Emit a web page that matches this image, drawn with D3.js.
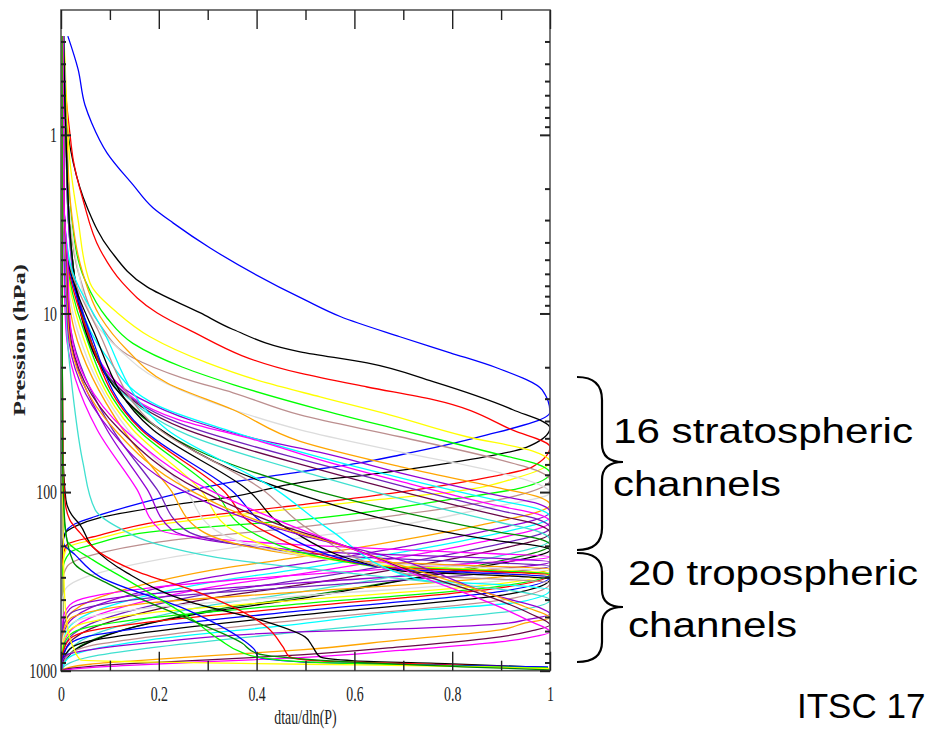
<!DOCTYPE html>
<html>
<head>
<meta charset="utf-8">
<script src="https://cdn.jsdelivr.net/npm/d3@7"></script>
<style>
  body { margin: 0; background: #ffffff; }
  svg { display: block; }
</style>
</head>
<body>
<div id="chart"></div>
<script>
let width = 930;
let height = 729;

// plot frame (pixels)
let plotLeft = 61, plotRight = 550, plotTop = 10, plotBottom = 670.7;

// axis ticks
const xTicks = [0, 0.2, 0.4, 0.6, 0.8, 1];
const xMinorTicks = [0.1, 0.3, 0.5, 0.7, 0.9];
const yTicks = [1, 10, 100, 1000];
const yMinorTicks = [0.3, 0.4, 0.5, 0.6, 0.7, 0.8, 0.9, 2, 3, 4, 5, 6, 7, 8, 9,
  20, 30, 40, 50, 60, 70, 80, 90, 200, 300, 400, 500, 600, 700, 800, 900];

// weighting functions, each point is [dtau/dln(P), pressure hPa]
const stratoColors = ["#0000ff", "#000000", "#ff0000", "#ffff00", "#00ff00", "#bc8f8f", "#dcdcdc", "#ffa500",
  "#9400d3", "#00ffff", "#ff00ff", "#7221bc", "#670748", "#40e0d0", "#008b00", "#000000"];
const stratoChannels = [
  [[0.014,0.28],[0.035,0.43],[0.049,0.68],[0.063,0.86],[0.094,1.26],[0.147,1.9],[0.188,2.56],[0.229,3.11],[0.305,4.3],[0.499,8.4],[0.571,10.4],[0.693,13.5],[0.796,16.6],[0.892,20.2],[0.984,26.8],[1,35.6],[0.857,49],[0.693,62],[0.611,68.6],[0.489,77],[0.319,91],[0.202,108],[0.135,121],[0.07,137],[0.03,150],[0.008,170],[0.003,200],[0.002,1000]],
  [[0.004,0.28],[0.008,0.6],[0.014,0.97],[0.025,1.43],[0.053,2.53],[0.1,4.4],[0.176,7.1],[0.284,9.9],[0.352,12.3],[0.489,16.4],[0.626,18.9],[0.761,24.1],[0.924,34.6],[1,43.7],[0.953,56],[0.796,68.6],[0.626,80],[0.489,88.5],[0.352,106],[0.202,121],[0.08,139],[0.03,155],[0.01,168],[0.004,190],[0.003,1000]],
  [[0.004,0.28],[0.01,0.6],[0.018,0.97],[0.025,1.38],[0.045,2.31],[0.08,4.4],[0.125,6.7],[0.196,9.9],[0.258,12.2],[0.489,21.6],[0.626,25.8],[0.761,30.4],[0.924,45],[1,55.8],[0.965,72],[0.83,87],[0.693,100],[0.489,118],[0.202,146],[0.08,174],[0.012,197],[0.004,238],[0.003,1000]],
  [[0.006,0.28],[0.012,0.7],[0.018,1.38],[0.035,3],[0.059,6.7],[0.115,9.9],[0.182,13.5],[0.299,18.9],[0.421,24.5],[0.53,29.3],[0.658,36],[0.83,49],[0.965,59],[1,67.8],[0.933,83],[0.796,100],[0.652,110],[0.489,123],[0.202,152],[0.08,181],[0.012,205],[0.004,255],[0.003,1000]],
  [[0.006,0.28],[0.012,1.2],[0.022,3],[0.049,6.5],[0.094,10.6],[0.147,14.7],[0.249,20],[0.352,25],[0.53,34.5],[0.693,44.8],[0.898,61.8],[0.975,70],[1,78.1],[0.939,95],[0.796,110],[0.489,143],[0.202,165],[0.065,197],[0.018,218],[0.004,271],[0.003,1000]],
  [[0.006,0.28],[0.012,1.2],[0.02,3.4],[0.04,6.5],[0.08,11.6],[0.147,17.7],[0.249,23],[0.352,27.8],[0.489,37],[0.693,49],[0.898,66],[0.975,76],[1,85.4],[0.898,110],[0.693,134],[0.489,157],[0.202,190],[0.065,225],[0.012,262],[0.004,310],[0.003,1000]],
  [[0.006,0.28],[0.012,1.5],[0.035,5.7],[0.07,11.3],[0.12,16],[0.2,23.5],[0.352,34.6],[0.489,44.8],[0.693,59.5],[0.898,78],[0.975,90],[1,101],[0.857,125],[0.693,153],[0.489,181],[0.202,238],[0.065,290],[0.008,354],[0.003,420],[0.002,1000]],
  [[0.006,0.28],[0.012,1],[0.02,2.5],[0.045,6],[0.08,10.4],[0.135,16],[0.217,24.5],[0.352,34.6],[0.489,52],[0.693,72],[0.898,95],[0.975,106],[1,117.9],[0.86,152.7],[0.7,185.2],[0.49,230.6],[0.3,276.2],[0.2,314.2],[0.12,357.5],[0.06,406.6],[0.025,462.6],[0.008,540],[0.003,646.9],[0.002,1000]],
  [[0.006,0.28],[0.01,1],[0.015,3],[0.04,10],[0.08,19],[0.162,30],[0.27,40],[0.407,51],[0.53,60],[0.693,78],[0.898,105],[0.975,116],[1,129.1],[0.86,167.1],[0.7,202.7],[0.49,252.4],[0.3,302.3],[0.2,343.9],[0.12,391.2],[0.06,445],[0.025,506.3],[0.008,590.9],[0.003,707.9],[0.002,1000]],
  [[0.006,0.28],[0.01,1],[0.015,3],[0.04,9],[0.09,17],[0.2,33],[0.34,45],[0.53,64],[0.7,84],[0.898,112],[0.975,124],[1,137.7],[0.86,178.2],[0.7,216.2],[0.49,269.2],[0.3,322.4],[0.2,366.8],[0.12,417.3],[0.06,474.7],[0.025,540],[0.008,630.3],[0.003,755.1],[0.002,1000]],
  [[0.005,0.28],[0.01,1],[0.015,3],[0.045,10],[0.1,22],[0.237,39],[0.407,52],[0.53,66],[0.7,88],[0.898,120],[0.975,133],[1,146.9],[0.86,190],[0.7,230.6],[0.49,287.1],[0.3,343.9],[0.2,391.2],[0.12,445],[0.06,506.3],[0.025,575.9],[0.008,672.3],[0.003,805.1],[0.002,1000]],
  [[0.005,0.28],[0.01,1],[0.015,3],[0.05,11],[0.1,23],[0.24,41],[0.53,70],[0.7,93],[0.898,127],[0.975,142],[1,158.6],[0.86,205.3],[0.7,249.1],[0.49,310.1],[0.3,371.5],[0.2,422.7],[0.12,480.9],[0.06,547],[0.025,622.3],[0.008,726.5],[0.003,870],[0.002,1000]],
  [[0.005,0.28],[0.01,1],[0.02,4],[0.05,12],[0.11,25],[0.25,44],[0.53,75],[0.7,100],[0.898,136],[0.975,152],[1,169.2],[0.86,219],[0.7,265.7],[0.49,330.8],[0.3,396.3],[0.2,450.8],[0.12,512.9],[0.06,583.4],[0.025,663.7],[0.008,774.5],[0.003,928],[0.002,1000]],
  [[0.005,0.28],[0.01,1],[0.02,4],[0.055,13],[0.12,27],[0.26,48],[0.53,82],[0.7,110],[0.898,148],[0.975,166],[1,185.2],[0.86,239.7],[0.7,290.8],[0.49,362.1],[0.3,433.8],[0.2,493.4],[0.12,561.4],[0.06,638.6],[0.025,726.5],[0.008,847.9],[0.003,960],[0.002,1000]],
  [[0.005,0.28],[0.01,1],[0.02,4],[0.06,14],[0.12,28],[0.177,40],[0.3,62],[0.53,100],[0.7,130],[0.898,168],[0.975,182],[1,197.5],[0.86,255.6],[0.7,310.1],[0.49,386.2],[0.3,462.6],[0.2,526.3],[0.12,598.6],[0.06,681.1],[0.025,774.5],[0.008,881.4],[0.003,970],[0.002,1000]],
  [[0.005,0.28],[0.01,1],[0.02,4],[0.06,15],[0.13,30],[0.2,44],[0.35,75],[0.53,112],[0.7,150],[0.898,188],[0.975,200],[1,210.7],[0.86,262],[0.7,312],[0.49,395],[0.3,470],[0.2,530],[0.12,600],[0.06,690],[0.025,780],[0.008,885],[0.003,975],[0.002,1000]]
];

const tropoColors = ["#ff00ff", "#9400d3", "#7221bc", "#ffa500", "#dcdcdc", "#ffff00", "#00ff00", "#ff0000",
  "#0000ff", "#000000", "#bc8f8f", "#00ffff", "#40e0d0", "#9400d3", "#ffa500", "#670748", "#ff00ff"];
const tropoChannels = [
  [[0.004,0.28],[0.006,2.3],[0.006,5],[0.01,12.3],[0.074,44.8],[0.155,96.3],[0.202,162.8],[0.489,197.5],[0.796,216.2],[1,230.6],[0.796,255.6],[0.489,290.8],[0.182,343.9],[0.059,386.2],[0.018,428.2],[0.004,519.5],[0.002,1000]],
  [[0.004,0.28],[0.006,2.3],[0.007,5],[0.015,12.3],[0.094,44.8],[0.176,96.3],[0.227,162.8],[0.53,216.2],[0.816,230.6],[1,245.9],[0.816,279.8],[0.489,322.4],[0.182,371.5],[0.059,411.9],[0.018,450.8],[0.004,554.1],[0.002,1000]],
  [[0.004,0.28],[0.006,2.3],[0.008,5],[0.02,12.3],[0.106,44.8],[0.196,96.3],[0.254,162.8],[0.55,226],[0.836,245.9],[1,258.9],[0.836,290.8],[0.489,339.5],[0.182,391.2],[0.059,439.4],[0.018,480.9],[0.004,590.9],[0.002,1000]],
  [[0.004,0.28],[0.006,2.3],[0.009,5],[0.027,12.3],[0.127,44.8],[0.223,96.3],[0.284,162.8],[0.571,239.7],[0.857,258.9],[1,269.2],[0.857,306.2],[0.489,362.1],[0.182,417.3],[0.059,468.6],[0.018,512.9],[0.004,630.3],[0.002,1000]],
  [[0.004,0.28],[0.006,2.3],[0.01,5],[0.033,12.3],[0.137,44.8],[0.254,96.3],[0.315,162.8],[0.591,245.9],[0.877,265.7],[1,276.2],[0.877,318.3],[0.489,381.3],[0.182,445],[0.059,499.8],[0.018,554.1],[0.004,672.3],[0.002,1000]],
  [[0.004,0.28],[0.006,2.3],[0.011,5],[0.04,12.3],[0.147,44.8],[0.284,96.3],[0.35,162.8],[0.611,252.4],[0.877,272.6],[1,283.4],[0.877,330.8],[0.489,401.4],[0.182,474.7],[0.059,533.1],[0.018,590.9],[0.004,717.1],[0.002,1000]],
  [[0.004,0.28],[0.006,2.3],[0.012,5],[0.046,12.3],[0.157,44.8],[0.311,96.3],[0.382,162.8],[0.632,258.9],[0.888,276.2],[1,287.1],[0.888,339.5],[0.489,422.7],[0.182,506.3],[0.059,568.6],[0.018,630.3],[0.004,764.6],[0.002,1000]],
  [[0.004,0.28],[0.006,2.3],[0.013,5],[0.052,12.3],[0.164,44.8],[0.329,96.3],[0.411,162.8],[0.652,262.3],[0.898,279.8],[1,290.8],[0.898,343.9],[0.489,439.4],[0.182,533.1],[0.059,598.6],[0.018,663.7],[0.004,805.1],[0.002,1000]],
  [[0.004,0.28],[0.006,2.3],[0.014,5],[0.057,12.3],[0.168,44.8],[0.346,96.3],[0.438,162.8],[0.673,269.2],[0.908,287.1],[1,298.4],[0.908,357.4],[0.489,462.6],[0.182,568.6],[0.059,638.6],[0.018,707.9],[0.004,847.9],[0.002,1000]],
  [[0.004,0.28],[0.006,2.3],[0.015,5],[0.065,12.3],[0.188,44.8],[0.38,96.3],[0.468,162.8],[0.693,276.2],[0.918,294.6],[1,306.2],[0.918,371.5],[0.489,487.1],[0.182,606.4],[0.059,681.1],[0.018,755.1],[0.004,892.8],[0.002,1000]],
  [[0.004,0.28],[0.006,2.3],[0.016,5],[0.075,12.3],[0.202,44.8],[0.411,96.3],[0.509,162.8],[0.714,290.8],[0.928,310.1],[1,322.4],[0.928,391.2],[0.489,519.5],[0.182,646.9],[0.059,726.5],[0.018,805.1],[0.004,928],[0.002,1000]],
  [[0.004,0.28],[0.006,2.3],[0.017,5],[0.085,12.3],[0.217,44.8],[0.438,96.3],[0.55,162.8],[0.734,310.1],[0.939,335.1],[1,352.8],[0.939,411.9],[0.693,468.6],[0.489,547],[0.182,672.3],[0.059,764.6],[0.018,837],[0.004,940],[0.002,1000]],
  [[0.004,0.28],[0.006,2.3],[0.009,5],[0.012,12.3],[0.025,29.3],[0.045,68.6],[0.07,125.8],[0.115,156.6],[0.217,202.7],[0.352,239.7],[0.53,272.6],[0.755,318.3],[0.939,362.1],[1,401.4],[0.939,456.6],[0.693,533.1],[0.489,606.4],[0.182,745.5],[0.059,837],[0.018,904.4],[0.004,964.5],[0.002,1000]],
  [[0.004,0.28],[0.006,2.3],[0.01,5],[0.014,12.3],[0.1,44.8],[0.243,96.3],[0.387,143.1],[0.489,173.6],[0.693,239.7],[0.898,386.2],[0.98,445],[1,480.9],[0.95,519.5],[0.898,547],[0.693,583.4],[0.489,606.4],[0.202,690.2],[0.059,764.6],[0.012,815.6],[0.003,892.8],[0.002,1000]],
  [[0.004,0.28],[0.006,2.3],[0.011,5],[0.016,12.3],[0.11,44.8],[0.26,96.3],[0.42,150],[0.55,190],[0.7,260],[0.85,350],[0.95,440],[1,506.3],[0.95,540],[0.898,590.9],[0.693,672.3],[0.489,764.6],[0.3,826],[0.15,880],[0.06,920],[0.015,960],[0.003,990],[0.002,1000]],
  [[0.004,0.28],[0.006,2.3],[0.012,5],[0.018,12.3],[0.12,44.8],[0.28,96.3],[0.44,150],[0.58,200],[0.72,280],[0.87,380],[0.96,480],[1,554.1],[0.96,600],[0.898,646.9],[0.693,735.9],[0.489,815.6],[0.3,870],[0.15,910],[0.06,945],[0.015,975],[0.002,1000]],
  [[0.004,0.28],[0.006,2.3],[0.013,5],[0.02,12.3],[0.13,44.8],[0.3,96.3],[0.46,150],[0.6,210],[0.74,300],[0.88,420],[0.96,530],[1,606.4],[0.96,650],[0.898,690],[0.693,770],[0.489,845],[0.3,890],[0.15,930],[0.06,960],[0.015,985],[0.002,1000]]
];

// surface-sensitive channels, running along the bottom
const surfaceColors = ["#000000", "#ff0000", "#0000ff", "#00ff00", "#ffff00", "#008b00"];
const surfaceChannels = [
  [[0.002,0.28],[0.002,8.4],[0.004,58],[0.01,110.6],[0.022,134.2],[0.039,152.7],[0.065,202.7],[0.135,283.4],[0.27,417.3],[0.407,519.5],[0.499,646.9],[0.515,735.9],[0.53,837],[0.6,880],[0.8,915],[0.996,960]],
  [[0.002,0.28],[0.002,8.4],[0.004,58],[0.008,110.6],[0.018,143.1],[0.039,169.2],[0.08,219],[0.147,272.6],[0.284,366.8],[0.421,568.6],[0.454,735.9],[0.468,837],[0.53,881.4],[0.734,916.1],[0.996,964.5]],
  [[0.002,0.28],[0.002,8.4],[0.003,58],[0.004,141],[0.005,192.5],[0.029,224.7],[0.08,298.4],[0.258,456.6],[0.372,672.3],[0.396,764.6],[0.403,837],[0.489,892.8],[0.996,952.3]],
  [[0.002,0.28],[0.002,8.4],[0.003,58],[0.005,120],[0.012,185],[0.065,239.7],[0.135,310.1],[0.27,519.5],[0.325,672.3],[0.372,794.8],[0.4,837],[0.5,892.8],[0.996,964.5]],
  [[0.002,0.28],[0.003,50],[0.006,300],[0.012,540],[0.025,740],[0.04,870],[0.2,895],[0.5,920],[0.8,945],[1,975]],
  [[0.002,0.28],[0.003,60],[0.008,150],[0.025,245.9],[0.1,330],[0.25,500],[0.37,700],[0.4,800],[0.55,880],[1,990]]
];

// slide annotations to the right of the plot
const noteLines = ["16 stratospheric", "channels", "20 tropospheric", "channels"];
const footer = "ITSC 17";

let svg = d3.select("#chart")
  .append("svg")
  .attr("width", width)
  .attr("height", height);

let x = d3.scaleLinear().domain([0, 1]).range([plotLeft, plotRight]);
let y = d3.scaleLog().domain([0.2, 1000]).range([plotTop, plotBottom]);

svg.append("defs").append("clipPath")
  .attr("id", "plot-clip")
  .append("rect")
  .attr("x", plotLeft)
  .attr("y", plotTop)
  .attr("width", plotRight - plotLeft)
  .attr("height", plotBottom - plotTop);

let line = d3.line()
  .x(function(d) { return x(d[0]); })
  .y(function(d) { return y(d[1]); })
  .curve(d3.curveMonotoneY);

let curves = svg.append("g").attr("clip-path", "url(#plot-clip)");

function drawGroup(channels, colors, cls) {
  curves.append("g")
    .attr("class", cls)
    .selectAll("path")
    .data(channels)
    .enter()
    .append("path")
    .attr("d", line)
    .attr("fill", "none")
    .attr("stroke", function(d, i) { return colors[i]; })
    .attr("stroke-width", 1.3);
}
drawGroup(stratoChannels, stratoColors, "strato");
drawGroup(tropoChannels, tropoColors, "tropo");
drawGroup(surfaceChannels, surfaceColors, "surface");

// frame
svg.append("rect")
  .attr("x", plotLeft)
  .attr("y", plotTop)
  .attr("width", plotRight - plotLeft)
  .attr("height", plotBottom - plotTop)
  .attr("fill", "none")
  .attr("stroke", "#555")
  .attr("stroke-width", 1.6);

// axes, ticks pointing inward
function addAxis(axis, tx, ty, strokeWidth) {
  let g = svg.append("g")
    .attr("transform", "translate(" + tx + "," + ty + ")")
    .call(axis);
  // the axis sets its own font, so override afterwards
  g.attr("font-family", "'Liberation Serif', 'Times New Roman', serif")
    .attr("font-size", 21);
  g.select(".domain").remove();
  g.selectAll(".tick line").attr("stroke", "#222").attr("stroke-width", strokeWidth);
  g.selectAll(".tick text").attr("fill", "#222").attr("transform", "scale(0.66,1)");
  return g;
}

addAxis(d3.axisBottom(x).tickValues(xTicks).tickSize(-19).tickPadding(15).tickFormat(String), 0, plotBottom, 1.4);
addAxis(d3.axisBottom(x).tickValues(xMinorTicks).tickSize(-10).tickFormat(""), 0, plotBottom, 1.4);
addAxis(d3.axisTop(x).tickValues(xTicks).tickSize(-19).tickFormat(""), 0, plotTop, 1.4);
addAxis(d3.axisTop(x).tickValues(xMinorTicks).tickSize(-10).tickFormat(""), 0, plotTop, 1.4);
addAxis(d3.axisLeft(y).tickValues(yTicks).tickSize(-10).tickPadding(6).tickFormat(String), plotLeft, 0, 2);
addAxis(d3.axisLeft(y).tickValues(yMinorTicks).tickSize(-5).tickFormat(""), plotLeft, 0, 2);
addAxis(d3.axisRight(y).tickValues(yTicks).tickSize(-10).tickFormat(""), plotRight, 0, 2);
addAxis(d3.axisRight(y).tickValues(yMinorTicks).tickSize(-5).tickFormat(""), plotRight, 0, 2);

// axis titles
svg.append("text")
  .attr("transform", "translate(" + ((plotLeft + plotRight) / 2) + ",724) scale(0.66,1)")
  .attr("text-anchor", "middle")
  .attr("font-family", "'Liberation Serif', 'Times New Roman', serif")
  .attr("font-size", 21)
  .attr("fill", "#222")
  .text("dtau/dln(P)");

svg.append("text")
  .attr("transform", "translate(25,340) rotate(-90)")
  .attr("text-anchor", "middle")
  .attr("font-family", "'Liberation Serif', 'Times New Roman', serif")
  .attr("font-weight", "bold")
  .attr("font-size", 16)
  .attr("textLength", 152)
  .attr("lengthAdjust", "spacingAndGlyphs")
  .attr("fill", "#222")
  .text("Pression (hPa)");

// braces
let braces = [
  "M577,377 Q602,377 602,400 L602,444 Q602,462 623,462 Q602,462 602,480 L602,528 Q602,550 577,550",
  "M577,553 Q602,553 602,572 L602,590 Q602,607 623,607 Q602,607 602,624 L602,642 Q602,662 577,662"
];
svg.append("g")
  .selectAll("path")
  .data(braces)
  .enter()
  .append("path")
  .attr("d", function(d) { return d; })
  .attr("fill", "none")
  .attr("stroke", "#000")
  .attr("stroke-width", 2.2);

let notePos = [[613, 443, 300], [613, 496, 168], [628, 585, 290], [628, 637, 169]];
svg.append("g")
  .selectAll("text")
  .data(noteLines)
  .enter()
  .append("text")
  .attr("x", function(d, i) { return notePos[i][0]; })
  .attr("y", function(d, i) { return notePos[i][1]; })
  .attr("textLength", function(d, i) { return notePos[i][2]; })
  .attr("lengthAdjust", "spacingAndGlyphs")
  .attr("font-family", "'Liberation Sans', Arial, sans-serif")
  .attr("font-size", 35)
  .attr("fill", "#000")
  .text(function(d) { return d; });

svg.append("text")
  .attr("x", 797)
  .attr("y", 718)
  .attr("font-family", "'Liberation Sans', Arial, sans-serif")
  .attr("font-size", 35)
  .attr("fill", "#000")
  .text(footer);
</script>
</body>
</html>
